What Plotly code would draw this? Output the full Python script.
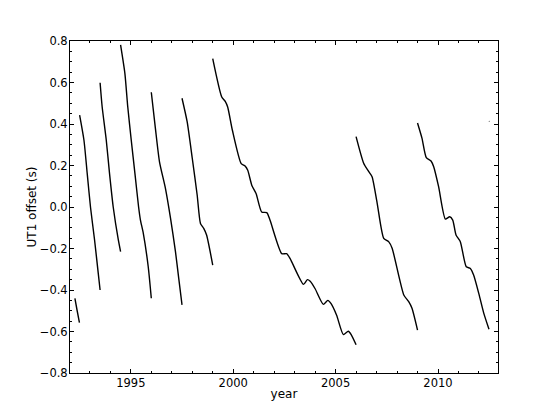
import plotly.graph_objects as go

# UT1 - UTC offset, split at each leap second (decimal year, seconds)
seg1_years = [1992.27, 1992.38, 1992.49]
seg1_vals = [-0.440, -0.500, -0.557]

seg2_years = [1992.50, 1992.71, 1992.87, 1993.03, 1993.23, 1993.41, 1993.50]
seg2_vals = [0.443, 0.323, 0.162, 0.000, -0.159, -0.320, -0.400]

seg3_years = [1993.50, 1993.60, 1993.80, 1993.96, 1994.14, 1994.39, 1994.50]
seg3_vals = [0.599, 0.483, 0.323, 0.162, 0.000, -0.159, -0.215]

seg4_years = [1994.50, 1994.71, 1994.85, 1995.02, 1995.20, 1995.38, 1995.47, 1995.61, 1995.85, 1996.00]
seg4_vals = [0.781, 0.644, 0.483, 0.323, 0.162, 0.000, -0.063, -0.127, -0.288, -0.440]

seg5_years = [1996.00, 1996.20, 1996.40, 1996.69, 1996.94, 1997.18, 1997.34, 1997.50]
seg5_vals = [0.553, 0.379, 0.218, 0.090, -0.055, -0.215, -0.344, -0.472]

seg6_years = [1997.50, 1997.75, 1998.00, 1998.24, 1998.40, 1998.56, 1998.70, 1999.00]
seg6_vals = [0.524, 0.411, 0.235, 0.058, -0.079, -0.103, -0.135, -0.280]

seg7_years = [1999.00, 1999.44, 1999.61, 1999.73, 1999.96, 2000.39, 2000.58, 2000.71,
              2000.91, 2001.12, 2001.39, 2001.64, 2001.80, 2002.37, 2002.61, 2002.78,
              2003.43, 2003.62, 2003.76, 2004.00, 2004.40, 2004.62, 2004.78, 2005.05,
              2005.38, 2005.62, 2005.76, 2006.00]
seg7_vals = [0.715, 0.530, 0.509, 0.482, 0.370, 0.209, 0.198, 0.177,
             0.104, 0.064, -0.024, -0.027, -0.064, -0.225, -0.225, -0.249,
             -0.373, -0.350, -0.358, -0.394, -0.469, -0.450, -0.466, -0.522,
             -0.615, -0.599, -0.615, -0.664]

seg8_years = [2006.00, 2006.37, 2006.62, 2006.78, 2007.03, 2007.35, 2007.59, 2007.76,
              2008.33, 2008.57, 2008.73, 2009.00]
seg8_vals = [0.339, 0.211, 0.170, 0.146, 0.018, -0.151, -0.167, -0.199,
             -0.424, -0.456, -0.488, -0.593]

seg9_years = [2009.00, 2009.22, 2009.43, 2009.66, 2009.79, 2010.03, 2010.36, 2010.57,
              2010.72, 2010.88, 2011.09, 2011.38, 2011.58, 2011.74, 2012.00, 2012.23, 2012.49]
seg9_vals = [0.405, 0.331, 0.238, 0.222, 0.194, 0.098, -0.058, -0.047,
             -0.063, -0.135, -0.167, -0.288, -0.296, -0.328, -0.420, -0.510, -0.589]

seg10_years = [2012.50, 2012.51]
seg10_vals = [0.414, 0.412]

segments = [
    (seg1_years, seg1_vals), (seg2_years, seg2_vals), (seg3_years, seg3_vals),
    (seg4_years, seg4_vals), (seg5_years, seg5_vals), (seg6_years, seg6_vals),
    (seg7_years, seg7_vals), (seg8_years, seg8_vals), (seg9_years, seg9_vals),
    (seg10_years, seg10_vals),
]

x_ticks = [1995, 2000, 2005, 2010]
x_ticklabels = ["1995", "2000", "2005", "2010"]

fig = go.Figure()
for yrs, vals in segments:
    fig.add_trace(go.Scatter(
        x=yrs, y=vals, mode="lines",
        line=dict(color="black", width=1.4, shape="spline", smoothing=0.6),
        showlegend=False, hoverinfo="skip",
    ))

tick_font = dict(family="DejaVu Sans", size=11.5, color="black")
title_font = dict(family="DejaVu Sans", size=12, color="black")

# The page body has an 8px margin; size the figure so it fits the 554x415 window.
fig.update_layout(
    width=538, height=399,
    margin=dict(l=62, r=48, t=33, b=34),
    paper_bgcolor="white", plot_bgcolor="white",
    font=tick_font,
    xaxis=dict(
        range=[1992.03, 2012.93],
        tickmode="array", tickvals=x_ticks, ticktext=x_ticklabels,
        ticks="inside", ticklen=4, tickwidth=1, tickcolor="black",
        minor=dict(dtick=1, tick0=1992, ticks="inside", ticklen=2, tickcolor="black", tickwidth=1),
        showline=True, linecolor="black", linewidth=1, mirror="allticks",
        showgrid=False, zeroline=False, automargin=False,
        ticklabelstandoff=-1,
        title=dict(text="year", font=title_font, standoff=0),
        tickfont=tick_font,
    ),
    yaxis=dict(
        range=[-0.8, 0.8],
        tick0=-0.8, dtick=0.2, tickformat=".1f",
        ticks="inside", ticklen=4, tickwidth=1, tickcolor="black",
        minor=dict(dtick=0.05, ticks="inside", ticklen=2, tickcolor="black", tickwidth=1),
        showline=True, linecolor="black", linewidth=1, mirror="allticks",
        showgrid=False, zeroline=False, automargin=False,
        ticklabelstandoff=-1,
        title=dict(text="UT1 offset (s)", font=title_font, standoff=0),
        tickfont=tick_font,
    ),
)

fig.write_html("out.html")
